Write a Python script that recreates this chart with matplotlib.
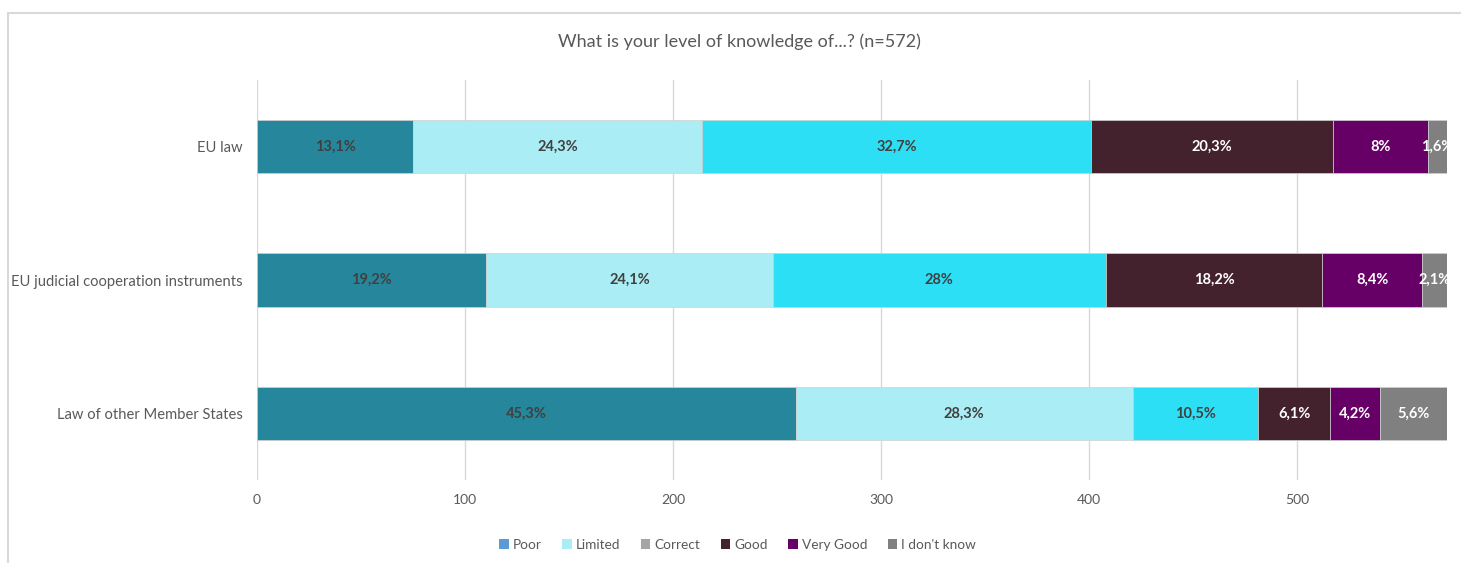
import matplotlib.pyplot as plt
from matplotlib.patches import Patch, Rectangle

plt.rcParams['font.family'] = ['Lato', 'DejaVu Sans']

questions = ['EU law', 'EU judicial cooperation instruments', 'Law of other Member States']
levels = ['Poor', 'Limited', 'Correct', 'Good', 'Very Good', "I don't know"]

# respondent counts per level (n=572)
counts = {
    'Poor':         [75, 110, 259],
    'Limited':      [139, 138, 162],
    'Correct':      [187, 160, 60],
    'Good':         [116, 104, 35],
    'Very Good':    [46, 48, 24],
    "I don't know": [9, 12, 32],
}
pct_labels = {
    'Poor':         ['13,1%', '19,2%', '45,3%'],
    'Limited':      ['24,3%', '24,1%', '28,3%'],
    'Correct':      ['32,7%', '28%', '10,5%'],
    'Good':         ['20,3%', '18,2%', '6,1%'],
    'Very Good':    ['8%', '8,4%', '4,2%'],
    "I don't know": ['1,6%', '2,1%', '5,6%'],
}

bar_colors = ['#26879C', '#AAEDF5', '#2DDFF5', '#44222D', '#660066', '#808080']
legend_colors = ['#5B9BD5', '#AAEDF5', '#A5A5A5', '#44222D', '#660066', '#808080']
text_colors = ['#404040', '#404040', '#404040', 'white', 'white', 'white']

fig = plt.figure(figsize=(14.61, 5.63), dpi=100)
ax = fig.add_axes([0.1759, 0.1474, 0.8145, 0.7105])

# outer chart frame
fig.patches.append(Rectangle((8 / 1461, -0.1), 1.2, 1 - 13 / 563 + 0.1,
                             transform=fig.transFigure, fill=False,
                             edgecolor='#D9D9D9', linewidth=1.5))

ypos = list(range(len(questions)))
left = [0] * len(questions)
for i, lvl in enumerate(levels):
    vals = counts[lvl]
    ax.barh(ypos, vals, left=left, height=0.4, color=bar_colors[i],
            edgecolor='#D0D0D0', linewidth=0.5, zorder=3)
    for y, v, l, lab in zip(ypos, vals, left, pct_labels[lvl]):
        ax.text(l + v / 2, y, lab, ha='center', va='center', fontsize=10.5,
                fontweight='bold', color=text_colors[i], zorder=4, clip_on=True)
    left = [a + b for a, b in zip(left, vals)]

ax.set_xlim(0, 572)
ax.set_ylim(2.5, -0.5)
ax.set_yticks(ypos)
ax.set_yticklabels(questions, fontsize=10.6, color='#595959')
ax.set_xticks(range(0, 600, 100))
ax.tick_params(axis='x', labelsize=10, labelcolor='#595959', length=0, pad=10)
ax.tick_params(axis='y', length=0, pad=10.5)
ax.grid(axis='x', color='#D9D9D9', linewidth=1, zorder=0)
for s in ax.spines.values():
    s.set_visible(False)

fig.text(0.506, 1 - 42 / 563, 'What is your level of knowledge of...? (n=572)',
         ha='center', va='center', fontsize=13, color='#595959')

handles = [Patch(facecolor=c, edgecolor='none') for c in legend_colors]
fig.legend(handles, levels, loc='center', bbox_to_anchor=(0.505, 1 - 545 / 563),
           ncol=6, frameon=False, fontsize=9.8, handlelength=0.7, handleheight=0.7,
           handletextpad=0.3, columnspacing=1.5, labelcolor='#595959')

fig.savefig('out.png', dpi=100, facecolor='white')
